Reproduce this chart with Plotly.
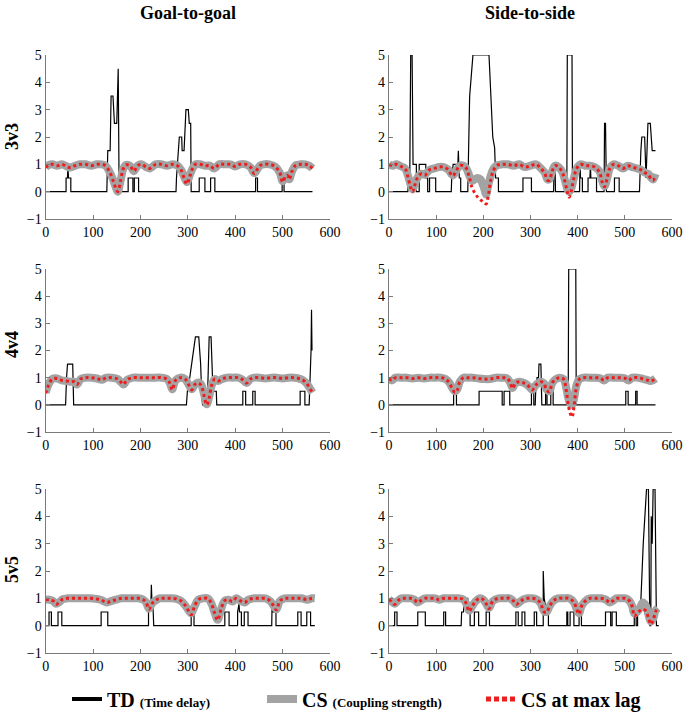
import plotly.graph_objects as go

# ---------------- data ----------------
# TD (time delay) vertices (x, value)
a_td = [(0,0),(43,0),(43,0.5),(46,0.5),(47,1),(48,0.5),(53,0.5),(53,0),(129,0),(130,1),(131,1.5),(136,1.5),
        (138,3.5),(142,3.5),(144,3),(145,2.5),(150,2.5),(152,4.5),(153,4.5),(155,0),(174,0),(174,0.5),(184,0.5),
        (184,0),(187,0),(187,0.5),(196,0.5),(196,0),(275,0),(276,0.5),(278,1),(280,1.5),(282,2),(287,2),(288,1.5),
        (292,1.5),(294,2.5),(296,3),(301,3),(303,2.5),(306,2.5),(307,0),(324,0),(324,0.5),(336,0.5),(336,0),
        (348,0),(348,0.5),(357,0.5),(357,0),(443,0),(443,0.5),(447,0.5),(447,0),(499,0),(499,0.5),(503,0.5),
        (503,0),(563,0)]
b_td = [(0,0),(40,0),(41,0.5),(44,0.5),(46,5),(49,5),(51,1),(58,1),(58,0),(64,0),(64,1),(78,1),(78,0.5),(82,0.5),
        (82,0),(86,0),(86,0.5),(99,0.5),(99,0),(132,0),(133,0.5),(136,1),(146,1),(147,1.5),(149,0.5),(152,0.5),
        (152,0),(167,0),(171,3.5),(178,5),(212,5),(217,3.1),(220,2),(224,1.6),(226,0.5),(232,0.5),(232,0),
        (284,0),(284,0.5),(302,0.5),(302,0),(349,0),(350,1),(352,1),(353,0),(377,0),(378,5),(388,5),(389,0),
        (404,0),(405,1),(406,0.5),(410,0.5),(410,0),(422,0),(422,0.5),(426,0.5),(427,1),(428,0.5),(440,0.5),
        (440,0),(456,0),(457,2.5),(459,2.5),(461,0),(478,0),(478,0.5),(488,0.5),(488,0),(531,0),(534,1.5),
        (536,2),(542,2),(545,0.5),(547,1.5),(549,2.5),(554,2.5),(556,2),(558,1.5),(565,1.5)]
c_td = [(0,0),(42,0),(44,1),(46,1.5),(57,1.5),(59,0),(297,0),(299,0.5),(304,1),(308,1.5),(312,2),(316,2.5),
        (323,2.5),(325,2),(327,1.5),(329,0.5),(331,0),(341,0),(343,2),(345,2.5),(349,2.5),(351,1),(353,0.5),
        (360,0.5),(361,0),(416,0),(416,0.5),(422,0.5),(422,0),(437,0),(437,0.5),(442,0.5),(442,0),(537,0),
        (537,0.5),(547,0.5),(547,0),(556,0),(558,1),(560,2),(561,3.5),(562,2)]
d_td = [(0,0),(137,0),(137,0.5),(143,0.5),(143,0),(191,0),(191,0.5),(240,0.5),(240,0),(244,0),(244,0.5),
        (256,0.5),(256,0),(302,0),(302,0.5),(307,0.5),(307,0),(310,0),(311,0.5),(314,1),(317,1),(318,1.5),
        (322,1.5),(323,0.5),(324,0),(332,0),(332,0.5),(335,0.5),(335,0),(343,0),(343,0.5),(348,0.5),(348,0),
        (378,0),(380,0.5),(381,5),(396,5),(397,0),(502,0),(502,0.5),(507,0.5),(507,0),(523,0),(523,0.5),
        (526,0.5),(526,0),(565,0)]
e_td = [(0,0),(7,0),(7,0.5),(12,0.5),(12,0),(26,0),(26,0.5),(34,0.5),(34,0),(117,0),(117,0.5),(131,0.5),
        (131,0),(217,0),(217,0.5),(222,0.8),(223,1.5),(224,1),(226,0.9),(228,0),(307,0),(307,0.5),(313,0.5),
        (313,0),(378,0),(378,0.5),(387,0.5),(387,0),(405,0),(405,0.5),(408,0.8),(409,0.5),(413,0.5),(413,0),
        (419,0),(419,0.5),(427,0.5),(427,0),(477,0),(477,0.5),(478,1),(480,0.5),(486,0.5),(486,0),(532,0),
        (532,0.5),(539,0.5),(539,0),(551,0),(551,0.5),(559,0.5),(559,0),(568,0)]
f_td = [(0,0),(12,0),(12,0.5),(17,0.5),(17,0),(61,0),(61,0.5),(77,0.5),(77,0),(116,0),(116,0.5),(120,0.5),
        (120,0),(153,0),(154,0.5),(158,0.5),(159,1),(167,1),(168,0.5),(172,0.5),(172,0),(181,0),(181,0.5),
        (190,0.5),(190,0),(206,0),(206,0.5),(213,0.5),(213,0),(269,0),(269,0.5),(274,0.5),(274,0),(282,0),
        (282,0.5),(288,0.5),(288,0),(308,0),(308,0.5),(313,0.5),(313,0),(327,0),(327,2),(329,1),(331,0.8),
        (333,0.5),(338,0.5),(338,0),(377,0),(377,0.5),(379,0.5),(379,0),(384,0),(384,0.5),(392,0.5),(392,0),
        (403,0),(403,0.5),(408,0.5),(408,0),(459,0),(459,0.5),(470,0.5),(470,0),(473,0),(473,0.5),(482,0.5),
        (482,0),(520,0),(520,0.5),(524,0.5),(524,0),(527,0),(527,0.5),(533,0.5),(539,3),(546,5),(550,5),
        (553,0),(555,0),(556,4),(558,3),(560,5),(564,5),(567,0),(572,0)]

# CS (coupling strength) and CS at max lag: (x, cs, cs_lag)
a_cs = [(0,0.9,0.88),(6,0.97,0.97),(14,1.0,1.0),(24,0.95,0.95),(34,1.0,1.0),(44,0.93,0.92),(52,0.88,0.88),
        (62,0.95,0.95),(72,1.0,1.0),(84,1.0,1.0),(96,0.95,0.95),(108,1.0,1.0),(118,1.0,1.0),(126,0.95,0.95),
        (134,0.75,0.75),(142,0.45,0.42),(148,0.15,0.12),(152,0.0,0.0),(158,0.4,0.4),(164,0.85,0.85),
        (170,0.98,0.98),(178,0.95,0.95),(186,0.75,0.75),(194,0.95,0.95),(202,1.0,1.0),(212,0.9,0.9),
        (220,0.85,0.85),(232,1.0,1.0),(244,1.0,1.0),(256,0.95,0.95),(268,1.0,1.0),(278,0.95,0.95),
        (286,0.8,0.78),(292,0.55,0.5),(298,0.35,0.28),(304,0.6,0.55),(310,0.85,0.85),(316,1.0,1.0),
        (326,1.0,1.0),(336,0.95,0.95),(346,0.95,0.95),(356,0.85,0.85),(366,1.0,1.0),(378,1.0,1.0),
        (390,1.0,1.0),(400,0.92,0.92),(410,1.0,1.0),(422,1.0,1.0),(432,0.9,0.9),(440,0.68,0.66),(446,0.8,0.8),
        (452,0.95,0.95),(460,1.0,1.0),(472,1.0,1.0),(484,0.92,0.92),(494,0.7,0.7),(500,0.38,0.35),
        (506,0.55,0.55),(510,0.6,0.6),(514,0.45,0.45),(520,0.75,0.75),(528,0.97,0.97),(538,1.0,1.0),
        (548,1.0,1.0),(556,0.95,0.95),(563,0.85,0.85)]
b_cs = [(0,1.0,1.0),(8,0.95,0.95),(16,1.0,1.0),(26,0.92,0.92),(34,0.85,0.85),(40,0.6,0.55),(46,0.25,0.15),
        (50,0.08,0.0),(54,0.25,0.2),(60,0.5,0.5),(68,0.65,0.65),(76,0.62,0.6),(86,0.8,0.8),(96,0.85,0.85),
        (106,0.9,0.9),(116,0.9,0.9),(126,0.8,0.8),(132,0.65,0.62),(136,0.6,0.58),(142,0.75,0.75),
        (150,0.95,0.95),(158,0.95,0.95),(164,0.85,0.85),(170,0.6,0.55),(176,0.4,0.15),(182,0.45,-0.05),
        (188,0.5,-0.2),(194,0.45,-0.3),(198,0.3,-0.35),(202,0.1,-0.4),(206,-0.1,-0.45),(210,0.2,-0.2),
        (216,0.6,0.45),(222,0.85,0.8),(230,0.97,0.97),(240,1.0,1.0),(252,1.0,1.0),(264,0.95,0.95),
        (276,1.0,1.0),(288,0.9,0.9),(300,0.95,0.95),(312,1.0,1.0),(322,0.85,0.85),(330,0.7,0.68),
        (336,0.45,0.42),(340,0.45,0.42),(346,0.75,0.75),(352,0.95,0.95),(360,0.9,0.9),(368,0.7,0.68),
        (374,0.35,0.3),(378,0.1,0.0),(382,0.0,-0.2),(386,0.1,0.0),(392,0.5,0.5),(398,0.85,0.85),
        (406,1.0,1.0),(416,0.95,0.95),(426,0.95,0.95),(436,0.9,0.9),(446,0.75,0.72),(452,0.4,0.35),
        (457,0.2,0.18),(462,0.45,0.45),(468,0.85,0.85),(476,1.0,1.0),(486,0.95,0.95),(496,0.85,0.85),
        (506,0.95,0.95),(516,0.9,0.9),(526,0.85,0.85),(534,0.8,0.8),(542,0.7,0.7),(550,0.65,0.62),
        (556,0.5,0.45),(560,0.45,0.42),(565,0.65,0.6)]
c_cs = [(0,0.45,0.42),(6,0.75,0.72),(14,0.95,0.95),(24,0.97,0.97),(34,0.9,0.9),(44,0.88,0.88),(52,0.85,0.85),
        (60,0.85,0.85),(66,0.75,0.75),(74,0.95,0.95),(84,1.0,1.0),(96,1.0,1.0),(108,0.97,0.97),(118,0.92,0.92),
        (128,1.0,1.0),(140,1.0,1.0),(152,0.95,0.95),(158,0.85,0.85),(164,0.75,0.75),(172,0.92,0.92),
        (184,1.0,1.0),(196,1.0,1.0),(208,1.0,1.0),(220,1.0,1.0),(232,1.0,1.0),(244,1.0,1.0),(256,0.95,0.95),
        (262,0.8,0.8),(267,0.57,0.55),(274,0.9,0.9),(284,1.0,1.0),(294,0.95,0.95),(300,0.8,0.8),
        (308,0.57,0.55),(315,0.75,0.75),(322,0.82,0.8),(328,0.75,0.72),(334,0.4,0.35),(340,0.02,0.0),
        (345,0.3,0.25),(350,0.7,0.7),(357,0.95,0.95),(364,0.88,0.88),(372,0.95,0.95),(382,1.0,1.0),
        (394,1.0,1.0),(406,1.0,1.0),(416,0.92,0.92),(424,0.8,0.8),(432,0.95,0.95),(440,1.0,1.0),
        (452,1.0,1.0),(464,0.97,0.97),(476,1.0,1.0),(488,1.0,1.0),(500,0.97,0.97),(512,1.0,1.0),
        (524,1.0,1.0),(534,0.97,0.97),(542,0.92,0.92),(550,0.8,0.8),(556,0.65,0.65),(563,0.45,0.45)]
d_cs = [(0,0.97,0.97),(6,0.9,0.9),(14,1.0,1.0),(26,1.0,1.0),(38,1.0,1.0),(50,0.97,0.97),(62,1.0,1.0),
        (74,0.97,0.97),(86,1.0,1.0),(98,1.0,1.0),(110,1.0,1.0),(120,0.95,0.95),(128,0.82,0.8),(134,0.62,0.6),
        (140,0.5,0.45),(145,0.58,0.55),(150,0.85,0.85),(158,1.0,1.0),(166,1.0,1.0),(178,1.0,1.0),
        (190,0.97,0.97),(202,0.95,0.95),(214,0.95,0.95),(226,1.0,1.0),(238,1.0,1.0),(250,0.98,0.98),
        (256,0.85,0.85),(262,0.62,0.6),(268,0.8,0.8),(276,0.85,0.85),(284,0.82,0.82),(292,0.75,0.75),
        (298,0.65,0.65),(304,0.55,0.55),(310,0.7,0.7),(316,0.8,0.8),(322,0.85,0.85),(328,0.8,0.8),
        (334,0.57,0.55),(340,0.5,0.48),(346,0.8,0.8),(354,0.95,0.95),(362,1.0,1.0),(370,0.95,0.95),
        (376,0.6,0.5),(380,0.25,0.0),(384,0.05,-0.3),(388,0.0,-0.45),(392,0.2,-0.1),(398,0.75,0.7),
        (404,0.95,0.95),(412,1.0,1.0),(424,1.0,1.0),(436,1.0,1.0),(448,0.98,0.98),(456,0.9,0.9),
        (464,1.0,1.0),(476,1.0,1.0),(488,1.0,1.0),(500,0.98,0.98),(508,0.9,0.9),(516,1.0,1.0),
        (528,1.0,1.0),(540,0.95,0.95),(550,0.9,0.9),(556,0.88,0.88),(565,0.97,0.97)]
e_cs = [(0,0.95,0.95),(8,0.95,0.95),(16,0.9,0.9),(22,0.8,0.78),(28,0.85,0.85),(36,0.97,0.97),(46,1.0,1.0),
        (58,1.0,1.0),(70,1.0,1.0),(82,1.0,1.0),(94,1.0,1.0),(106,0.98,0.98),(116,0.95,0.95),(124,0.88,0.88),
        (130,0.85,0.85),(138,0.9,0.9),(148,0.95,0.95),(160,1.0,1.0),(172,1.0,1.0),(184,1.0,1.0),
        (196,1.0,1.0),(206,0.95,0.95),(212,0.85,0.85),(218,0.62,0.6),(224,0.8,0.8),(230,0.9,0.9),
        (240,1.0,1.0),(252,1.0,1.0),(264,1.0,1.0),(276,0.98,0.98),(286,0.9,0.9),(294,0.75,0.75),
        (300,0.6,0.58),(307,0.45,0.4),(314,0.7,0.7),(322,0.95,0.95),(332,1.0,1.0),(342,1.0,1.0),
        (350,0.8,0.8),(356,0.5,0.48),(363,0.22,0.2),(370,0.6,0.6),(378,0.92,0.92),(386,0.95,0.95),
        (394,0.88,0.88),(402,1.0,1.0),(412,0.9,0.9),(420,0.85,0.85),(428,0.95,0.95),(440,1.0,1.0),
        (452,1.0,1.0),(464,1.0,1.0),(474,0.9,0.9),(480,0.75,0.75),(487,0.6,0.58),(494,0.9,0.9),
        (504,1.0,1.0),(516,1.0,1.0),(528,1.0,1.0),(540,1.0,1.0),(552,0.95,0.95),(562,1.0,1.0),(568,1.0,1.0)]
f_cs = [(0,0.95,0.95),(6,0.88,0.88),(12,0.8,0.78),(18,0.9,0.9),(26,1.0,1.0),(36,1.0,1.0),(46,1.0,1.0),
        (54,0.95,0.95),(60,0.85,0.85),(66,0.9,0.9),(76,1.0,1.0),(88,1.0,1.0),(98,1.0,1.0),(106,0.95,0.95),
        (116,1.0,1.0),(128,1.0,1.0),(140,1.0,1.0),(150,1.0,1.0),(158,0.95,0.95),(164,0.8,0.8),
        (170,0.55,0.52),(176,0.7,0.7),(184,0.9,0.9),(192,1.0,1.0),(200,0.95,0.95),(206,0.8,0.8),
        (212,0.65,0.62),(220,0.9,0.9),(232,1.0,1.0),(244,1.0,1.0),(256,1.0,1.0),(264,0.9,0.9),
        (270,0.78,0.78),(276,0.85,0.85),(284,0.95,0.95),(294,1.0,1.0),(304,1.0,1.0),(314,0.95,0.95),
        (322,0.8,0.8),(328,0.55,0.52),(334,0.5,0.48),(340,0.7,0.7),(348,0.9,0.9),(358,1.0,1.0),
        (370,1.0,1.0),(382,1.0,1.0),(392,0.85,0.85),(398,0.6,0.6),(403,0.45,0.42),(408,0.7,0.7),
        (416,0.9,0.9),(426,1.0,1.0),(438,1.0,1.0),(450,1.0,1.0),(460,0.95,0.95),(468,0.85,0.85),
        (474,0.9,0.9),(482,1.0,1.0),(492,1.0,1.0),(502,1.0,1.0),(510,0.9,0.9),(516,0.7,0.68),
        (520,0.45,0.35),(526,0.5,0.45),(532,0.65,0.55),(538,0.85,0.6),(544,0.75,0.55),(550,0.4,0.3),
        (555,0.15,0.05),(560,0.25,0.2),(565,0.55,0.5),(570,0.65,0.65)]

col_titles = ["Goal-to-goal", "Side-to-side"]
row_titles = ["3v3", "4v4", "5v5"]
x_ticks = [0, 100, 200, 300, 400, 500, 600]
y_ticks = [-1, 0, 1, 2, 3, 4, 5]

# ---------------- figure ----------------
W, H = 685, 712
FONT = "Liberation Serif, Times New Roman, serif"
AXC = "#7a7a7a"


def px(xp):                   # window x pixel -> paper fraction
    return xp / W


def py(yp):                   # window y pixel -> paper fraction
    return 1 - yp / H


panels = [(a_td, a_cs), (b_td, b_cs), (c_td, c_cs), (d_td, d_cs), (e_td, e_cs), (f_td, f_cs)]
col_dom = [[px(45.7), px(330)], [px(389), px(672)]]
row_px = [(55, 219), (269, 432), (489, 653)]
row_dom = [[py(b), py(t)] for t, b in row_px]

fig = go.Figure()
layout = {}
for i, (td, cs) in enumerate(panels):
    r, c = divmod(i, 2)
    sfx = "" if i == 0 else str(i + 1)
    xa, ya = "x" + sfx, "y" + sfx
    fig.add_trace(go.Scatter(x=[p[0] for p in td], y=[p[1] for p in td], mode="lines",
                             line=dict(color="black", width=1.2), xaxis=xa, yaxis=ya,
                             showlegend=False, hoverinfo="skip"))
    fig.add_trace(go.Scatter(x=[p[0] for p in cs], y=[p[1] for p in cs], mode="lines",
                             line=dict(color="#a3a3a3", width=8, shape="spline"), xaxis=xa, yaxis=ya,
                             showlegend=False, hoverinfo="skip"))
    fig.add_trace(go.Scatter(x=[p[0] for p in cs], y=[p[2] for p in cs], mode="lines",
                             line=dict(color="#ee1c1c", width=3, dash="dot", shape="spline"),
                             xaxis=xa, yaxis=ya, showlegend=False, hoverinfo="skip"))
    common = dict(showline=True, linecolor=AXC, linewidth=1.3, ticks="inside", ticklen=4,
                  tickcolor=AXC, tickwidth=1.2, showgrid=False, zeroline=False,
                  tickfont=dict(family=FONT, size=14, color="black"), fixedrange=True)
    layout["xaxis" + sfx] = dict(domain=col_dom[c], range=[0, 600], tickvals=x_ticks,
                                 anchor=ya, **common)
    layout["yaxis" + sfx] = dict(domain=row_dom[r], range=[-1, 5], tickvals=y_ticks,
                                 anchor=xa, **common)

# legend entries (legend-only traces)
fig.add_trace(go.Scatter(x=[None], y=[None], mode="lines", line=dict(color="black", width=4),
                         name="<b>TD</b> <span style='font-size:13px'><b>(Time delay)</b></span>",
                         legend="legend"))
fig.add_trace(go.Scatter(x=[None], y=[None], mode="lines", line=dict(color="#a3a3a3", width=8),
                         name="<b>CS</b> <span style='font-size:13px'><b>(Coupling strength)</b></span>",
                         legend="legend2"))
fig.add_trace(go.Scatter(x=[None], y=[None], mode="lines",
                         line=dict(color="#ee1c1c", width=5, dash="5px,3px"),
                         name="<b>CS at max lag</b>", legend="legend3"))

leg_common = dict(orientation="h", yanchor="middle", xanchor="left", y=py(699),
                  bgcolor="rgba(0,0,0,0)", borderwidth=0,
                  font=dict(family=FONT, size=20, color="black"))
layout["legend"] = dict(x=px(67), **leg_common)
layout["legend2"] = dict(x=px(262), **leg_common)
layout["legend3"] = dict(x=px(481), **leg_common)

ann = []
for j, t in enumerate(col_titles):
    ann.append(dict(text="<b>%s</b>" % t, x=px([188, 530][j]), y=py(13), xref="paper",
                    yref="paper", showarrow=False, xanchor="center", yanchor="middle",
                    font=dict(family=FONT, size=18, color="black")))
for j, t in enumerate(row_titles):
    ann.append(dict(text="<b>%s</b>" % t, x=px(12), y=py([137, 345, 570][j]), xref="paper",
                    yref="paper", showarrow=False, xanchor="center", yanchor="middle",
                    textangle=-90, font=dict(family=FONT, size=18, color="black")))

fig.update_layout(width=W, height=H, margin=dict(l=0, r=0, t=0, b=0, autoexpand=False),
                  paper_bgcolor="white", plot_bgcolor="white", annotations=ann, **layout)
fig.write_html("out.html", config={"displayModeBar": False},
               post_script="document.body.style.margin='0px';"
                           "document.documentElement.style.overflow='hidden';")
